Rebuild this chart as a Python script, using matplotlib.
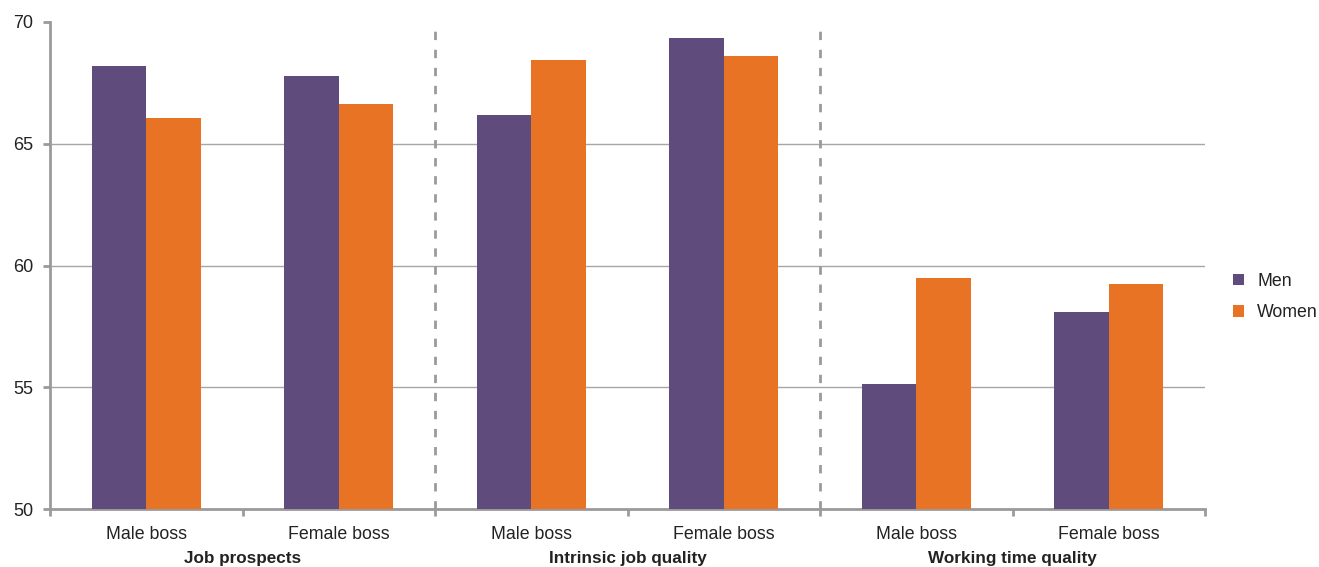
import numpy as np
import matplotlib
matplotlib.use("Agg")
from matplotlib import pyplot as plt, transforms

plt.rcParams['font.family'] = ['Liberation Sans', 'DejaVu Sans']

# data
groups = ['Job prospects', 'Intrinsic job quality', 'Working time quality']
boss_labels = ['Male boss', 'Female boss'] * 3
men = [68.2, 67.8, 66.2, 69.35, 55.15, 58.1]
women = [66.05, 66.65, 68.45, 68.6, 59.5, 59.25]

purple = '#5f4c7d'
orange = '#e87325'
axis_grey = '#9a9a9c'

fig = plt.figure(figsize=(13.19, 5.67), dpi=100)
ax = fig.add_axes([50 / 1319, 1 - 509 / 567, (1205 - 50) / 1319, (509 - 22) / 567])

x = np.arange(len(men)) + 0.5
w = 0.283
ax.bar(x - w / 2, men, width=w, color=purple, label='Men', zorder=3)
ax.bar(x + w / 2, women, width=w, color=orange, label='Women', zorder=3)

ax.set_xlim(0, 6)
ax.set_ylim(50, 70)
ax.set_yticks([50, 55, 60, 65, 70])
for yv in [55, 60, 65]:
    ax.axhline(yv, color='#a6a6a6', lw=1, zorder=1)

# dashed separators between groups
for xv in [2, 4]:
    ax.plot([xv, xv], [50, 69.75], color=axis_grey, lw=2, ls=(0, (3, 3.5)), zorder=2)

# boundary ticks, labels in the middle of each category
ax.set_xticks(np.arange(0, 7))
ax.set_xticklabels([])
ax.set_xticks(x, minor=True)
ax.set_xticklabels(boss_labels, minor=True)
ax.tick_params(axis='x', which='minor', length=0, pad=12, labelsize=12.8, labelcolor='#222222')
ax.tick_params(axis='x', which='major', length=5, width=2, color=axis_grey)
ax.tick_params(axis='y', length=5, width=2, color=axis_grey, labelsize=13,
               labelcolor='#222222', pad=7)

for s in ['top', 'right']:
    ax.spines[s].set_visible(False)
for s in ['left', 'bottom']:
    ax.spines[s].set_color(axis_grey)
    ax.spines[s].set_linewidth(2)

trans = transforms.blended_transform_factory(ax.transData, fig.transFigure)
for i, g in enumerate(groups):
    ax.text(2 * i + 1, 1 - 558 / 567, g, transform=trans, ha='center', va='center',
            fontsize=12.3, fontweight='bold', color='#222222')

leg = fig.legend(loc='center left', bbox_to_anchor=(1233 / 1319, 1 - 297 / 567),
                 frameon=False, fontsize=12.8, handlelength=0.62, handleheight=0.62,
                 labelspacing=0.8, handletextpad=0.75, borderpad=0, borderaxespad=0)
for t in leg.get_texts():
    t.set_color('#222222')

fig.savefig('out.png', dpi=100)
